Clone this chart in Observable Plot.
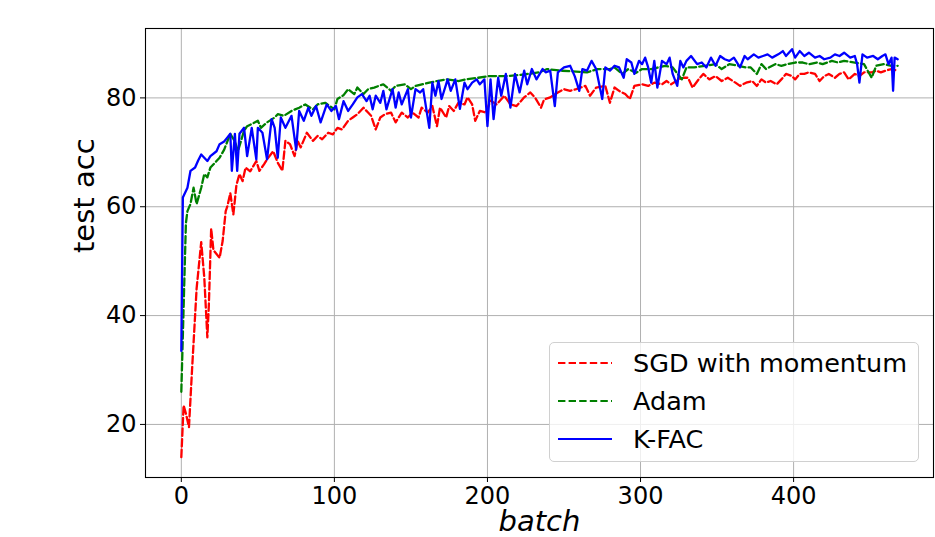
<!DOCTYPE html>
<html>
<head>
<meta charset="utf-8">
<script src="https://cdn.jsdelivr.net/npm/d3@7"></script>
<script src="https://cdn.jsdelivr.net/npm/@observablehq/plot@0.6"></script>
<style>
  html, body { margin: 0; padding: 0; background: #fff; }
  #wrap { position: relative; width: 935px; height: 537px; overflow: hidden; font-family: "DejaVu Sans", sans-serif; }
  #legend { position: absolute; left: 549px; top: 342px; width: 370px; height: 120px; box-sizing: border-box;
    border: 1px solid #d0d0d0; border-radius: 5px; background: rgba(255,255,255,0.8); }
  .row { position: absolute; left: 0; height: 30px; display: flex; align-items: center; }
  .row svg { margin-left: 8px; }
  .row span { margin-left: 20px; font-size: 25.5px; color: #000; white-space: nowrap; }
</style>
</head>
<body>
<div id="wrap"></div>
<script>
// ---- data ----
const sgdBatch = [0,1.5,3,5,7,10,13,15,17,18,19.5,21,23,25,27,29,30,32,34,36,38,40,42,45,49,51,54,56,60,63,66,68,71,74,76,78,82,86,89,92,96,99,102,105,109,112,115,119,122,124,127,130,133,137,140,144,148,151,155,157,161,164,167,169,173,175,178,181,185,187,190,192,195,199,202,206,211,215,219,224,228,231,235,237,241,246,250,254,258,264,267,271,277,280,283,286,290,293,296,301,305,309,314,317,320,325,328,331,334,338,341,345,349,353,357,362,365,369,373,376,379,382,385,389,392,395,399,401,404,407,410,414,417,420,423,427,430,433,436,440,443,446,451,454,457,460,464,468];
const sgdAcc = [14,23.5,22,19.5,30,45,53.5,47,36,42,56,52,51.3,50.6,53.7,59.2,60,62.5,58.6,64,66,64.7,67.2,66.5,68.4,66.6,67.8,68.7,70.2,68.1,66.6,72.1,71.5,69.3,72.1,70.9,73.6,72.1,73,72.4,73.6,73.3,74.5,74.2,75.8,76.4,77,78.2,77.3,76.7,74.2,76.4,77,77.3,75.5,77.3,76.4,77.3,76.4,78.2,77.3,78.5,74.8,78.2,76.4,78.5,77.6,79.1,78.8,80.1,78.8,75.8,77.6,77.3,79.5,78.8,80.4,78.8,78.5,80.1,81,80.1,78.2,79.7,80.1,81,81.6,81.3,81.6,82.2,80.4,81.9,82.2,79.1,81.9,81.3,80.7,79.8,82.2,82.5,82.2,82.8,82.5,83.1,82.5,83.4,83.7,83.7,81.9,83.4,84.4,83.4,84,83.1,83.7,82.8,82.2,82.8,83.1,82.2,83.4,82.8,83.1,82.5,83.4,84.4,84,83.4,84.4,84.4,84.7,84.4,83.1,84,84.4,83.7,84.4,84.7,83.4,84.4,84,84.7,84.7,85,84.7,85,85.3,85];

const adamBatch = [0,3,4,6,8,10,13,15,17,19,23,25,28,32,35,37,41,43,46,50,52,56,61,63,67,72,77,81,86,89,94,100,102,106,109,113,115,119,122,126,132,137,140,146,150,153,162,167,173,181,186,194,201,207,213,224,234,239,248,265,272,280,283,288,292,297,301,307,316,321,327,330,335,342,349,353,358,364,369,372,376,379,382,388,392,396,401,406,410,415,419,425,429,433,440,446,451,454,459,464,468];
const adamAcc = [26,57,59.2,60.5,63.5,60.5,63.5,66,65.4,67.2,68.4,69,70.5,73.4,72,70.2,74,74.8,75.2,75.8,74.5,75.5,76.4,77,76.7,77.6,78.2,78.8,77.9,78.8,79.1,77.9,79.8,80.5,81.6,80.7,81.9,80.7,81.6,81.9,82.5,81.3,82.2,82.5,81.6,82.2,82.8,83.1,83.4,83.1,83.4,83.7,84,84,84,84.3,84.7,85.3,85,84.7,85.3,85.3,85.6,84.4,85.3,84.6,85.3,85.3,85.9,85.6,83.4,85.6,85.6,85.9,86.2,85.3,86.2,85.9,85.6,85.6,84.4,86.2,85.3,86.2,85.9,86.2,86.5,86.5,86.2,86.5,86.2,86.8,86.5,86.8,86.5,86.2,83.7,85.9,86.2,85.9,85.9];

const kfacBatch = [0,1,4,6,9,11,13,15,17,19,23,25,28,30,32,33,35,36.5,38,41,43,46,49,50,53,56,59,61,63,65,68,72,75,77,80,83,85,88,91,95,98,101,103,106,109,112,115,118,121,123,125,127,130,132,134,138,140,142,144,148,150,153,156,158,162,164,166,168,170,174,176,179,182,185,187,190,193,195,198,200,202,204,207,209,212,215,218,221,224,226,229,232,236,238,241,244,246,250,254,257,260,262,265,268,271,275,277,280,283,286,289,291,294,296,299,301,303,305,307,309,311,314,317,319,321,324,326,328,330,333,337,340,343,346,349,352,355,358,361,365,368,370,374,377,380,383,386,390,393,395,399,401,404,407,410,414,417,420,424,427,430,433,437,440,441.5,443,445,448,452,455,458,460,462,464,465,466,468];
const kfacAcc = [33.5,61.7,63.5,66.6,67.2,68.5,69.6,69,68.4,69.3,70.2,71.5,72,72.7,73.4,66.6,73.4,66.6,73.4,74.5,69.3,74.5,68.7,74.5,73.6,68.7,76.1,74.5,69,76.4,74.5,76.7,70.5,77.6,75.8,78.2,76.7,78.5,75.5,78.8,77.6,78.5,76.1,79.4,77.6,78.8,80.1,80.7,79.4,80.4,77.9,80.4,79.1,81.3,77.9,81.6,78.2,81,78.8,81.6,76.4,81.6,81,81.6,74.5,82.8,80.4,83.1,79.8,83.4,81.3,83.4,78,82.8,81.6,82.8,83.4,82.5,83.4,74.8,83.4,76.1,83.7,80.4,84.4,78.2,84.4,81,85,82.5,85.3,83.4,85.3,84.7,85,78.5,84.7,85.6,85.9,84,81.3,85.3,85,86.8,85.3,79.8,85.6,85,85.9,85.6,83.7,87.1,86.5,84.4,86.8,86.2,87.4,85.6,82.8,86.8,81.9,86.8,86.2,87.4,84.4,82.2,86.8,85.6,86.8,87.7,86.2,86.5,85.6,87.4,85.9,87.7,87.1,86.8,87.4,85.6,87.7,87.1,88,87.4,87.7,88,87.4,88,88.6,87.7,88.95,87.4,88.6,87.7,88.3,87.4,87.7,87.1,87.4,88,87.7,88.3,87.4,87.7,86.2,82.8,88,87.4,87.7,87.1,87.7,88,86.2,87.4,81.3,87.4,87.1];

const xTicks = [0, 100, 200, 300, 400];
const yTicks = [20, 40, 60, 80];
const seriesNames = ["SGD with momentum", "Adam", "K-FAC"];
const seriesColors = ["red", "green", "blue"];
const seriesDash = ["7.4,3.2", "7.4,3.2", null];

// ---- chart ----
const dash = "7.4,3.2";
const lw = 2.3;
const chart = Plot.plot({
  width: 935,
  height: 537,
  marginLeft: 145,
  marginRight: 2,
  marginTop: 28,
  marginBottom: 60,
  style: { fontFamily: "DejaVu Sans, sans-serif", background: "white", overflow: "visible" },
  x: { domain: [-23.4, 491.4] },
  y: { domain: [10.25, 92.75] },
  marks: [
    Plot.gridX(xTicks, { stroke: "#b0b0b0", strokeOpacity: 1, strokeWidth: 1 }),
    Plot.gridY(yTicks, { stroke: "#b0b0b0", strokeOpacity: 1, strokeWidth: 1 }),
    Plot.line(sgdAcc, { x: sgdBatch, y: sgdAcc, stroke: seriesColors[0], strokeWidth: lw, strokeDasharray: dash, curve: "linear" }),
    Plot.line(adamAcc, { x: adamBatch, y: adamAcc, stroke: seriesColors[1], strokeWidth: lw, strokeDasharray: dash, curve: "linear" }),
    Plot.line(kfacAcc, { x: kfacBatch, y: kfacAcc, stroke: seriesColors[2], strokeWidth: lw, curve: "linear" }),
    Plot.frame({ stroke: "black", strokeWidth: 1.1 }),
    Plot.axisX(xTicks, { tickSize: 5, tickPadding: 4, fontSize: 24, label: null, stroke: "black" }),
    Plot.axisY(yTicks, { tickSize: 5, tickPadding: 4, fontSize: 24, label: null, stroke: "black" }),
    Plot.text(["batch"], { frameAnchor: "bottom", dy: 44, fontSize: 29, fontStyle: "italic", lineAnchor: "middle", fill: "black" }),
    Plot.text(["test acc"], { frameAnchor: "left", dx: -61, rotate: -90, fontSize: 29, lineAnchor: "middle", fill: "black" })
  ]
});
const wrap = document.getElementById("wrap");
wrap.appendChild(chart);

// ---- legend (inside the axes, lower right) ----
const legend = document.createElement("div");
legend.id = "legend";
const rowTops = [5, 43, 81];
seriesNames.forEach((name, i) => {
  const row = document.createElement("div");
  row.className = "row";
  row.style.top = rowTops[i] + "px";
  const dashAttr = seriesDash[i] ? `stroke-dasharray="${seriesDash[i]}"` : "";
  row.innerHTML = `<svg width="55" height="10"><line x1="0" y1="5" x2="54" y2="5" stroke="${seriesColors[i]}" stroke-width="2" ${dashAttr}/></svg><span>${name}</span>`;
  legend.appendChild(row);
});
wrap.appendChild(legend);
</script>
</body>
</html>
